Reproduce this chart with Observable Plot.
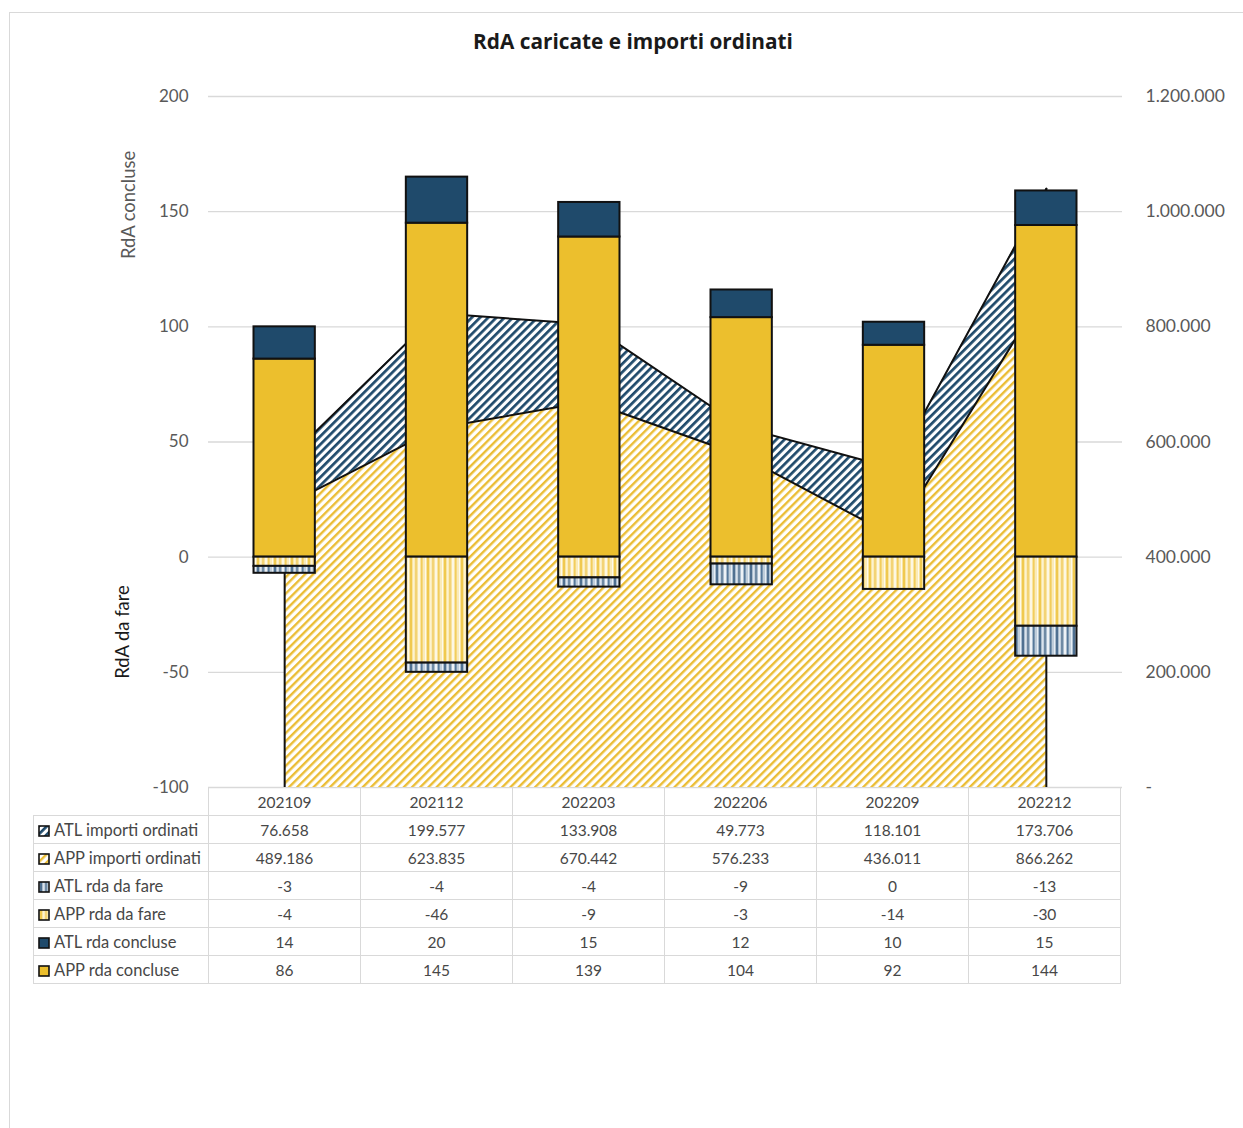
<!DOCTYPE html>
<html><head><meta charset="utf-8">
<script src="https://cdn.jsdelivr.net/npm/d3@7"></script>
<script src="https://cdn.jsdelivr.net/npm/@observablehq/plot@0.6"></script>
<style>
body{margin:0;background:#fff;font-family:Lato,"Open Sans",sans-serif;}
#wrap{position:relative;width:1243px;height:1128px;overflow:hidden;background:#fff;}
#frame{position:absolute;left:9px;top:12px;width:1300px;height:1200px;border:1.5px solid #d9d9d9;}
#title{position:absolute;left:0;width:1266px;top:27px;text-align:center;font-family:"Open Sans",Lato,sans-serif;font-weight:bold;font-size:20.8px;color:#1a1a1a;}
#chart{position:absolute;left:0;top:0;}
.ytitle{position:absolute;transform:translate(-50%,-50%) rotate(-90deg);font-size:18.4px;white-space:nowrap;}
table{position:absolute;left:33px;top:787px;border-collapse:collapse;table-layout:fixed;font-size:15.5px;color:#474747;}
td{border:1px solid #d9d9d9;height:27px;padding:0;text-align:center;}
td.lab{text-align:left;padding-left:4px;white-space:nowrap;font-size:16.5px;}
td.lab svg{vertical-align:-1px;margin-right:4px;}
</style>
</head><body>
<div id="wrap">
  <div id="frame"></div>
  <div id="chart"></div>
  <div id="title">RdA caricate e importi ordinati</div>
  <div class="ytitle" style="left:128px;top:205px;color:#595959;">RdA concluse</div>
  <div class="ytitle" style="left:122px;top:632px;color:#1a1a1a;">RdA da fare</div>
</div>
<script>
const categories = ["202109","202112","202203","202206","202209","202212"];
const atlImporti = [76658,199577,133908,49773,118101,173706];
const appImporti = [489186,623835,670442,576233,436011,866262];
const atlDaFare = [-3,-4,-4,-9,0,-13];
const appDaFare = [-4,-46,-9,-3,-14,-30];
const atlConcluse = [14,20,15,12,10,15];
const appConcluse = [86,145,139,104,92,144];
const leftTicks = [-100,-50,0,50,100,150,200];
const leftMin = -100, leftMax = 200, rightMax = 1200000;

const locale = d3.formatLocale({decimal:",", thousands:".", grouping:[3], currency:["","€"], minus:"-"});
const fmt = locale.format(",");
const toLeft = v => leftMin + v / rightMax * (leftMax - leftMin);
const toRight = v => (v - leftMin) / (leftMax - leftMin) * rightMax;

const idx = categories.map((c, i) => i);

// stacked bar segments
const barSeries = [
  {fill:"#ecbf2d", y1: i => 0, y2: i => appConcluse[i]},
  {fill:"#1f4a6b", y1: i => appConcluse[i], y2: i => appConcluse[i] + atlConcluse[i]},
  {fill:"url(#stripeY)", y1: i => 0, y2: i => appDaFare[i]},
  {fill:"url(#stripeB)", y1: i => appDaFare[i], y2: i => appDaFare[i] + atlDaFare[i]}
];

const marks = [
  Plot.ruleY(leftTicks, {stroke:"#d9d9d9", strokeWidth:1.3}),
  Plot.areaY(idx, {x: i => i, y1: leftMin, y2: i => toLeft(appImporti[i]), fill:"url(#hatchY)"}),
  Plot.areaY(idx, {x: i => i, y1: i => toLeft(appImporti[i]), y2: i => toLeft(appImporti[i] + atlImporti[i]), fill:"url(#hatchB)"}),
  Plot.lineY(idx, {x: i => i, y: i => toLeft(appImporti[i]), stroke:"#111", strokeWidth:2}),
  Plot.lineY(idx, {x: i => i, y: i => toLeft(appImporti[i] + atlImporti[i]), stroke:"#111", strokeWidth:2}),
  Plot.ruleX([0, categories.length - 1], {x: d => d, y1: leftMin, y2: d => toLeft(appImporti[d] + atlImporti[d]), stroke:"#111", strokeWidth:2}),
  ...barSeries.map(s => Plot.rectY(idx.filter(i => s.y1(i) !== s.y2(i)), {
    x1: i => i - 0.5, x2: i => i + 0.5, y1: s.y1, y2: s.y2,
    insetLeft: 45.5, insetRight: 45.5, fill: s.fill, stroke:"#111", strokeWidth:2
  })),
  Plot.axisY(leftTicks, {anchor:"left", tickSize:0, tickPadding:20, fontSize:17, color:"#595959", label:null,
    tickFormat: v => fmt(v)}),
  Plot.axisY(leftTicks, {anchor:"right", tickSize:0, tickPadding:23, fontSize:17.5, color:"#595959", label:null,
    tickFormat: v => { const r = toRight(v); return r === 0 ? "-" : fmt(r); }})
];

const svg = Plot.plot({
  width: 1243, height: 800,
  marginTop: 96, marginBottom: 13, marginLeft: 208, marginRight: 121,
  style: {fontFamily: "Lato, 'Open Sans', sans-serif", background: "transparent", overflow: "visible"},
  x: {type:"linear", domain:[-0.5, categories.length - 0.5], axis:null},
  y: {domain:[leftMin, leftMax], axis:null},
  marks
});

const defs = `<defs>
<pattern id="hatchB" width="5.8" height="5.8" patternUnits="userSpaceOnUse" patternTransform="rotate(45)">
  <rect width="5.8" height="5.8" fill="#fff"/><rect width="2.7" height="5.8" fill="#1f4a6b"/>
</pattern>
<pattern id="hatchY" width="5.8" height="5.8" patternUnits="userSpaceOnUse" patternTransform="rotate(45)">
  <rect width="5.8" height="5.8" fill="#fff"/><rect width="2.4" height="5.8" fill="#ebbd35"/>
</pattern>
<pattern id="stripeY" width="17" height="10" patternUnits="userSpaceOnUse">
  <rect width="17" height="10" fill="#f8e4a2"/>
  <rect x="0" width="1" height="10" fill="#fff" opacity="0.8"/>
  <rect x="2" width="2" height="10" fill="#f0c94f"/>
  <rect x="5" width="1.5" height="10" fill="#fdf3d0"/>
  <rect x="7.5" width="1" height="10" fill="#eec348"/>
  <rect x="10" width="2" height="10" fill="#fff" opacity="0.7"/>
  <rect x="13" width="1.5" height="10" fill="#f2cd5c"/>
  <rect x="15.5" width="1" height="10" fill="#fdf3d0"/>
</pattern>
<pattern id="stripeB" width="17" height="10" patternUnits="userSpaceOnUse">
  <rect width="17" height="10" fill="#a9bccd"/>
  <rect x="0" width="1" height="10" fill="#e8eef4"/>
  <rect x="2" width="2" height="10" fill="#4f7091"/>
  <rect x="5" width="1.5" height="10" fill="#dbe3ec"/>
  <rect x="7.5" width="1" height="10" fill="#36597c"/>
  <rect x="10" width="2" height="10" fill="#eef2f6"/>
  <rect x="13" width="1.5" height="10" fill="#56789a"/>
  <rect x="15.5" width="1" height="10" fill="#d5dfe8"/>
</pattern>
</defs>`;
svg.insertAdjacentHTML("afterbegin", defs);
document.getElementById("chart").appendChild(svg);

// data table
const rows = [
  {label:"ATL importi ordinati", values: atlImporti, fill:"url(#hatchB)"},
  {label:"APP importi ordinati", values: appImporti, fill:"url(#hatchY)"},
  {label:"ATL rda da fare", values: atlDaFare, fill:"url(#stripeB)"},
  {label:"APP rda da fare", values: appDaFare, fill:"url(#stripeY)"},
  {label:"ATL rda concluse", values: atlConcluse, fill:"#1f4a6b"},
  {label:"APP rda concluse", values: appConcluse, fill:"#ecbf2d"}
];
const table = document.createElement("table");
let html = `<colgroup><col style="width:175px">${categories.map(() => '<col style="width:152px">').join("")}</colgroup>`;
html += `<tr><td style="border-top:none;border-left:none;"></td>${categories.map(c => `<td>${c}</td>`).join("")}</tr>`;
for (const r of rows) {
  html += `<tr><td class="lab"><svg width="12" height="12"><rect x="1" y="1" width="10" height="10" fill="${r.fill}" stroke="#111" stroke-width="1.6"/></svg>${r.label}</td>${r.values.map(v => `<td>${fmt(v)}</td>`).join("")}</tr>`;
}
table.innerHTML = html;
document.getElementById("wrap").appendChild(table);
</script>
</body></html>
